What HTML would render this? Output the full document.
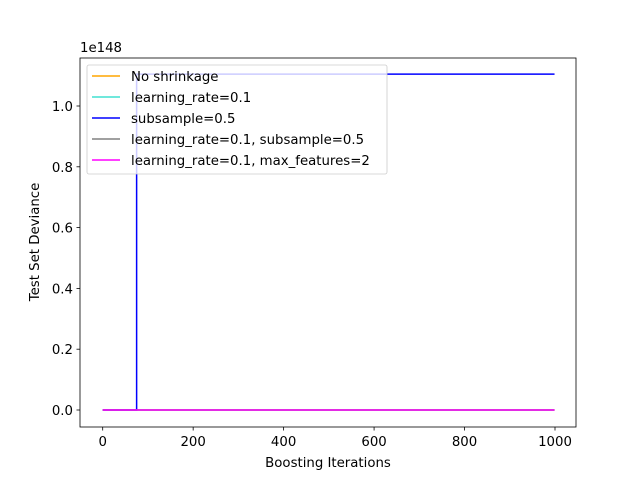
<!DOCTYPE html>
<html><head><meta charset="utf-8"><style>
body{margin:0;background:#fff}
svg text{font-family:"DejaVu Sans","Liberation Sans",sans-serif;font-size:13.3px;fill:#000}
</style></head><body>
<svg id="chart" width="640" height="480" xmlns="http://www.w3.org/2000/svg">
<rect x="0" y="0" width="640" height="480" fill="#fff"/>
<g id="series"></g>
<rect x="80" y="58" width="496" height="369" fill="none" stroke="#000" stroke-width="0.8"/>
<g id="xt"></g>
<g id="yt"></g>
<text x="328" y="467" text-anchor="middle">Boosting Iterations</text>
<text transform="translate(39,242) rotate(-90)" text-anchor="middle">Test Set Deviance</text>
<text x="80" y="52">1e148</text>
<g id="legend"></g>
</svg>
<script>
const xTicks=[0,200,400,600,800,1000];
const yTicks=[0.0,0.2,0.4,0.6,0.8,1.0];
const seriesNames=["No shrinkage","learning_rate=0.1","subsample=0.5","learning_rate=0.1, subsample=0.5","learning_rate=0.1, max_features=2"];
const seriesColors=["orange","turquoise","blue","gray","magenta"];
const subsampleX=[0,75,75,999];
const subsampleY=[0,0,1.105,1.105];
const flatX=[0,999];
const flatY=[0,0];
const NS="http://www.w3.org/2000/svg";
function sx(v){return 102.7+v*0.4523;}
function sy(v){return 410-v*304;}
function mk(t,a,p){const e=document.createElementNS(NS,t);for(const k in a)e.setAttribute(k,a[k]);p.appendChild(e);return e;}
const S=document.getElementById('series');
function line(xs,ys,c,name){const p=mk('polyline',{points:xs.map((x,i)=>sx(x)+','+sy(ys[i])).join(' '),fill:'none',stroke:c,'stroke-width':1.5},S);

}
line(flatX,flatY,seriesColors[0],'line-no-shrinkage');
line(flatX,flatY,seriesColors[1],'line-learning-rate');
line(subsampleX,subsampleY,seriesColors[2],'line-subsample');
line(flatX,flatY,seriesColors[3],'line-lr-subsample');
line(flatX,flatY,seriesColors[4],'line-lr-max-features');
const XT=document.getElementById('xt');
xTicks.forEach(v=>{const x=sx(v);if(x>576)return;
const l=mk('line',{x1:x,x2:x,y1:427,y2:430.5,stroke:'#000','stroke-width':0.8},XT);


const t=mk('text',{x:x,y:446,'text-anchor':'middle'},XT);t.textContent=v;

});
const YT=document.getElementById('yt');
yTicks.forEach(v=>{const y=sy(v);
const l=mk('line',{x1:76.5,x2:80,y1:y,y2:y,stroke:'#000','stroke-width':0.8},YT);


const t=mk('text',{x:73,y:y+5,'text-anchor':'end'},YT);t.textContent=v.toFixed(1);

});
const L=document.getElementById('legend');
mk('rect',{x:87,y:65,width:300,height:109,rx:2,fill:'#fff','fill-opacity':0.8,stroke:'#ccc','stroke-width':0.8},L);
seriesNames.forEach((n,i)=>{const y=76+i*21;
const l=mk('line',{x1:92,x2:120,y1:y,y2:y,stroke:seriesColors[i],'stroke-width':1.5},L);


const t=mk('text',{x:131,y:y+5},L);t.textContent=n;

});
</script>
</body></html>
